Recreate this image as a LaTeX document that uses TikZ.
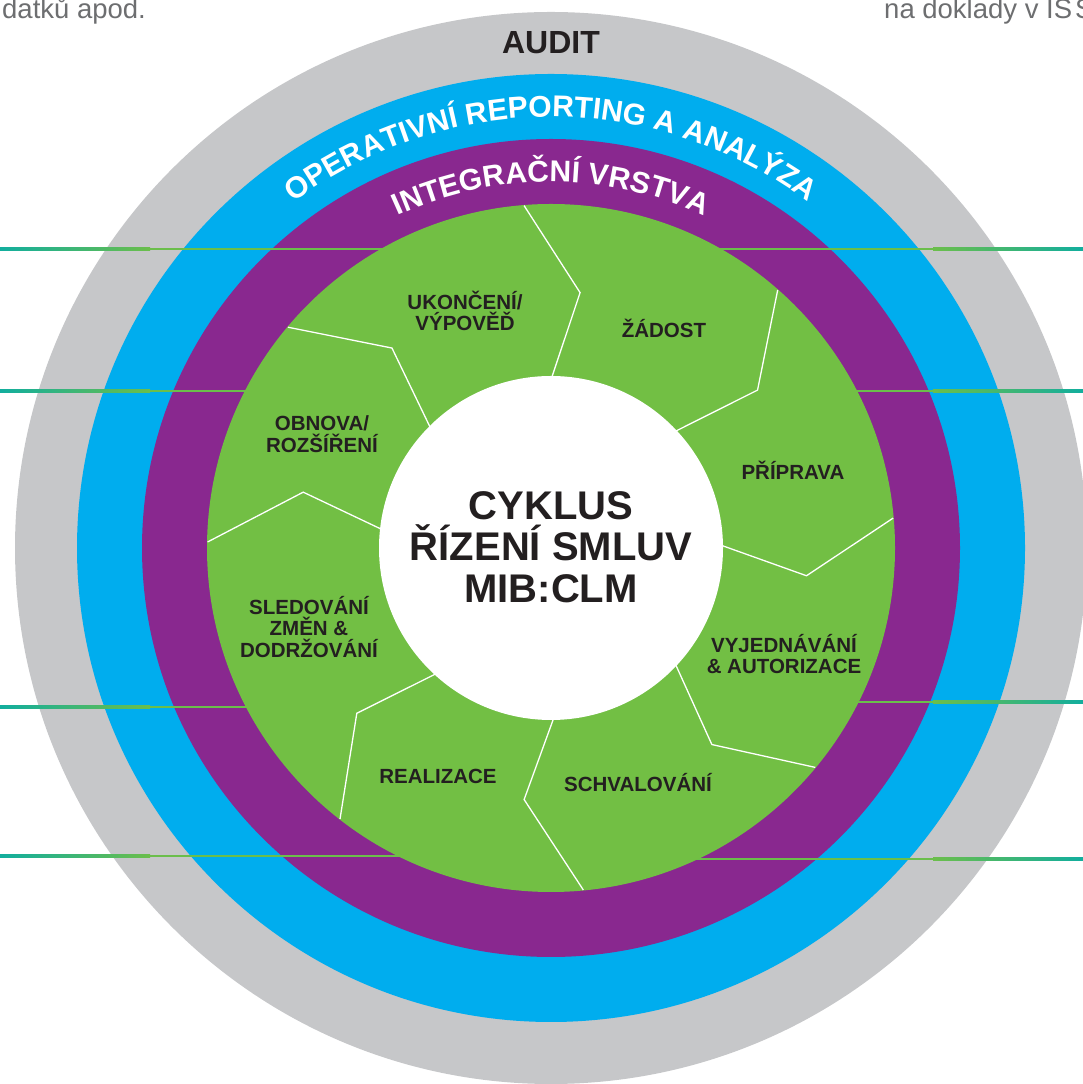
\documentclass[tikz,border=0pt]{standalone}
\usepackage{fontspec}
\setmainfont{Liberation Sans}
\usetikzlibrary{decorations.text,calc}
\definecolor{auditgray}{HTML}{C6C7C9}
\definecolor{opblue}{HTML}{00ADEE}
\definecolor{intpurple}{HTML}{89288F}
\definecolor{clmgreen}{HTML}{72BF44}
\definecolor{textdark}{HTML}{231F20}
\definecolor{lineteal}{HTML}{12AE9E}
\definecolor{linegreen}{HTML}{6BBE4B}
\definecolor{notegray}{HTML}{6D6E70}
\begin{document}
\begin{tikzpicture}[x=1pt,y=1pt,
  seglabel/.style={font=\bfseries\fontsize{20.5}{21.5}\selectfont, text=textdark, align=center, inner sep=0pt},
  segline/.style={white, line width=1.3pt, line join=miter},
  notetext/.style={font=\fontsize{27.5}{28}\selectfont, text=notegray, inner sep=0pt, anchor=base west}]
\useasboundingbox (0,0) rectangle (1083,1084);
\coordinate (C) at (551,536);
% rings
\fill[auditgray] (C) circle[radius=536];
\fill[opblue] (C) circle[radius=474];
\fill[intpurple] (C) circle[radius=409];
% callout lines (left)
\foreach \yy in {835,693,377,228}{
  \shade[left color=lineteal, right color=linegreen] (0,\yy-1.4) rectangle (150,\yy+1.4);
  \fill[linegreen] (149,\yy-1.4) rectangle (551,\yy+1.4);
}
% callout lines (right)
\foreach \yy in {835,693,382,225}{
  \shade[left color=linegreen, right color=lineteal] (933,\yy-1.4) rectangle (1083,\yy+1.4);
  \fill[linegreen] (551,\yy-1.4) rectangle (934,\yy+1.4);
}
% green disk
\fill[clmgreen] (C) circle[radius=344];
% segment boundaries
\foreach \ia/\ka/\kr/\oa in {91/83.5/257/94.5, 44.3/37.4/260/48.7, 2.3/-6.2/257/5,
  -41.5/-50.7/254/-39.7, -87.7/-96.1/253/-84.6, -131/-139.6/255/-127.9,
  175/167.3/254/179, 136.4/128.5/255.5/140}{
  \draw[segline] ($(C)+(\ia:160)$) -- ($(C)+(\ka:\kr)$) -- ($(C)+(\oa:343.5)$);
}
% center
\fill[white] (C) circle[radius=172];
\node[font=\bfseries\fontsize{40}{41.5}\selectfont, text=textdark, align=center, inner sep=0pt] (title) at (551,537) {CYKLUS\\ŘÍZENÍ SMLUV\\MIB:CLM};
% ring texts
\node[font=\bfseries\fontsize{32}{32}\selectfont, text=textdark, inner sep=0pt] (audit) at (551,1041) {AUDIT};
\path[decorate, decoration={text along path, text align=center,
  text={|\color{white}\bfseries\fontsize{30}{30}\selectfont|OPERATIVNÍ REPORTING A ANALÝZA}}]
  ($(C)+(150:431)$) arc[start angle=150, end angle=30, radius=431];
\path[decorate, decoration={text along path, text align=center,
  text={|\color{white}\bfseries\fontsize{30}{30}\selectfont|INTEGRAČNÍ VRSTVA}}]
  ($(C)+(150:366)$) arc[start angle=150, end angle=30, radius=366];
% segment labels
\node[seglabel] (ukon) at (465,773) {UKONČENÍ/\\VÝPOVĚĎ};
\node[seglabel] (zad) at (664,756) {ŽÁDOST};
\node[seglabel] (prip) at (793,614) {PŘÍPRAVA};
\node[seglabel] (vyj) at (784,430) {VYJEDNÁVÁNÍ\\\& AUTORIZACE};
\node[seglabel] (schv) at (638,301) {SCHVALOVÁNÍ};
\node[seglabel] (real) at (438,308) {REALIZACE};
\node[seglabel] (sled) at (309,457) {SLEDOVÁNÍ\\ZMĚN \&\\DODRŽOVÁNÍ};
\node[seglabel] (obn) at (322,650) {OBNOVA/\\ROZŠÍŘENÍ};
% cut-off notes at top
\node[notetext] (noteL) at (2,1065) {datků apod.};
\node[notetext] (noteR) at (884,1065) {na doklady v IS\kern3pt S};
\end{tikzpicture}
\end{document}
